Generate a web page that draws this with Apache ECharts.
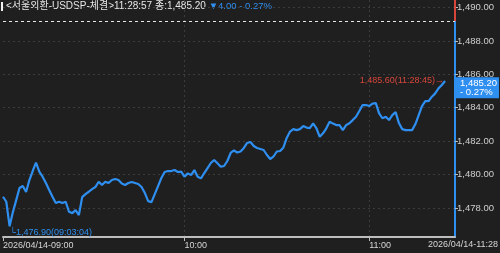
<!DOCTYPE html>
<html><head><meta charset="utf-8">
<script src="https://cdn.jsdelivr.net/npm/echarts@6/dist/echarts.min.js"></script>
<style>html,body{margin:0;padding:0;background:#1f1f1f}#c{width:500px;height:253px}</style>
</head><body><div id="c"></div>
<script>
// ---- data ----
const prices = [
1478.67,1478.37,1476.90,1477.75,1478.47,1479.19,1479.31,1478.95,1479.67,1480.21,
1480.71,1480.17,1479.87,1479.49,1479.07,1478.67,1478.29,1478.37,1478.29,1478.37,
1477.77,1477.69,1477.87,1477.57,1478.65,1478.83,1478.97,1479.13,1479.25,1479.57,
1479.37,1479.57,1479.49,1479.67,1479.73,1479.67,1479.46,1479.37,1479.49,1479.55,
1479.49,1479.43,1479.25,1478.89,1478.41,1478.35,1478.83,1479.31,1479.79,1480.15,
1480.21,1480.21,1480.27,1480.15,1480.17,1479.87,1480.07,1479.97,1480.27,1479.87,
1479.77,1480.09,1480.39,1480.69,1480.87,1480.67,1480.47,1480.51,1480.81,1481.29,
1481.44,1481.32,1481.38,1481.59,1481.89,1481.95,1481.71,1481.59,1481.53,1481.47,
1481.17,1480.93,1481.08,1481.38,1481.41,1481.62,1482.19,1482.57,1482.72,1482.66,
1482.72,1482.90,1482.81,1482.78,1483.07,1482.77,1482.26,1482.47,1482.77,1483.16,
1483.05,1482.96,1482.96,1482.66,1482.96,1483.07,1483.26,1483.46,1483.80,1484.16,
1484.16,1484.10,1484.25,1484.28,1483.66,1483.37,1483.46,1483.26,1483.56,1483.74,
1483.08,1482.72,1482.66,1482.66,1482.66,1483.02,1483.56,1484.10,1484.40,1484.40,
1484.66,1484.86,1485.16,1485.36,1485.60
];
const hourLabels = ['2026/04/14-09:00', '10:00', '11:00'];
const hourIndex = [0, 55, 111];
const axisSlots = 138;
const prevClose = 1489.20;
const lastPrice = 1485.20;
const yMin = 1476.26, yMax = 1490.45;
const headerTitle = '<서울외환-USDSP-체결>11:28:57 종:1,485.20 ';
const headerChange = '▼4.00 - 0.27%';
const boxPct = '- 0.27%';
const endLabel = '2026/04/14-11:28';
const maxTime = '11:28:45';
const minTime = '09:03:04';

// ---- chart ----
const FONT = "'Liberation Sans', 'Noto Sans CJK KR', sans-serif";
const BLUE = '#2f8ff0', RED = '#d8463b';
const fmt = v => v.toLocaleString('en-US', {minimumFractionDigits: 2, maximumFractionDigits: 2});
const cats = Array.from({length: axisSlots}, (_, i) => String(i));
const isHour = i => hourIndex.indexOf(i) >= 0;
const maxV = Math.max(...prices), minV = Math.min(...prices);
const maxIdx = prices.indexOf(maxV), minIdx = prices.indexOf(minV);

const chart = echarts.init(document.getElementById('c'), null, {renderer: 'canvas'});
chart.setOption({
  backgroundColor: '#1f1f1f',
  animation: false,
  textStyle: {fontFamily: FONT},
  grid: {left: 0, right: 45, top: 0, bottom: 16},
  xAxis: {
    type: 'category', data: cats, boundaryGap: false,
    axisLine: {lineStyle: {color: '#bdbdbd', width: 2}},
    axisTick: {show: true, interval: i => isHour(i), length: 4, lineStyle: {color: '#bdbdbd'}},
    axisLabel: {interval: i => isHour(i), formatter: (v, i) => hourLabels[hourIndex.indexOf(Number(v))] || '',
      color: '#d6d6d6', fontSize: 9, align: 'left', margin: 4, fontFamily: FONT},
    splitLine: {show: true, interval: i => isHour(i) && i > 0, lineStyle: {color: '#3c3c3c', type: [2, 3]}}
  },
  yAxis: {
    type: 'value', position: 'right', min: yMin, max: yMax, splitNumber: 7,
    axisLine: {show: true, lineStyle: {color: BLUE, width: 2}},
    axisTick: {show: true, length: 3, lineStyle: {color: '#bdbdbd'}},
    axisLabel: {showMinLabel: false, showMaxLabel: false, formatter: fmt, color: '#cfcfcf',
      fontSize: 9.5, margin: 2, fontFamily: FONT},
    splitLine: {show: true, showMinLine: false, showMaxLine: false, lineStyle: {color: '#3c3c3c', type: [2, 3]}}
  },
  series: [{
    type: 'line', data: prices, showSymbol: false, clip: false,
    lineStyle: {color: BLUE, width: 2.2}, itemStyle: {color: BLUE},
    markLine: {
      silent: true, symbol: 'none', animation: false,
      data: [
        {yAxis: prevClose, lineStyle: {color: '#e6e6e6', type: [3, 3], width: 1}, label: {show: false}},
        [{coord: [String(axisSlots - 1), yMax], lineStyle: {color: RED, width: 2, type: 'solid'}, label: {show: false}},
         {coord: [String(axisSlots - 1), prevClose]}],
        {yAxis: lastPrice, lineStyle: {color: 'rgba(0,0,0,0)', width: 0},
         label: {show: true, position: 'end', distance: 1, formatter: fmt(lastPrice) + '\n' + boxPct,
           backgroundColor: BLUE, color: '#ffffff', padding: [2, 2, 1, 4], fontSize: 9.5, lineHeight: 9,
           align: 'left', fontFamily: FONT}}
      ]
    },
    markPoint: {
      silent: true, animation: false,
      data: [
        {coord: [maxIdx, maxV], symbol: 'circle', symbolSize: 0,
         label: {show: true, position: 'left', distance: 1, formatter: fmt(maxV) + '(' + maxTime + ')→',
           color: RED, fontSize: 9, fontFamily: FONT}},
        {coord: [minIdx, minV], symbol: 'circle', symbolSize: 0,
         label: {show: true, position: [0, 6], align: 'left', verticalAlign: 'middle',
           formatter: '└' + fmt(minV) + '(' + minTime + ')', color: BLUE, fontSize: 9, fontFamily: FONT}}
      ]
    }
  }],
  graphic: [
    {type: 'rect', left: 1, top: 2, shape: {width: 2, height: 9}, style: {fill: '#f0f0f0'}},
    {type: 'text', left: 6, top: 1, style: {
      text: '{w|' + headerTitle + '}{b|' + headerChange + '}',
      rich: {w: {fill: '#e8e8e8', fontSize: 10, fontFamily: FONT},
             b: {fill: BLUE, fontSize: 9.5, fontFamily: FONT}}}},
    {type: 'text', right: 2, top: 240, style: {text: endLabel, fill: '#d6d6d6', fontSize: 9, fontFamily: FONT}}
  ]
});
</script></body></html>
